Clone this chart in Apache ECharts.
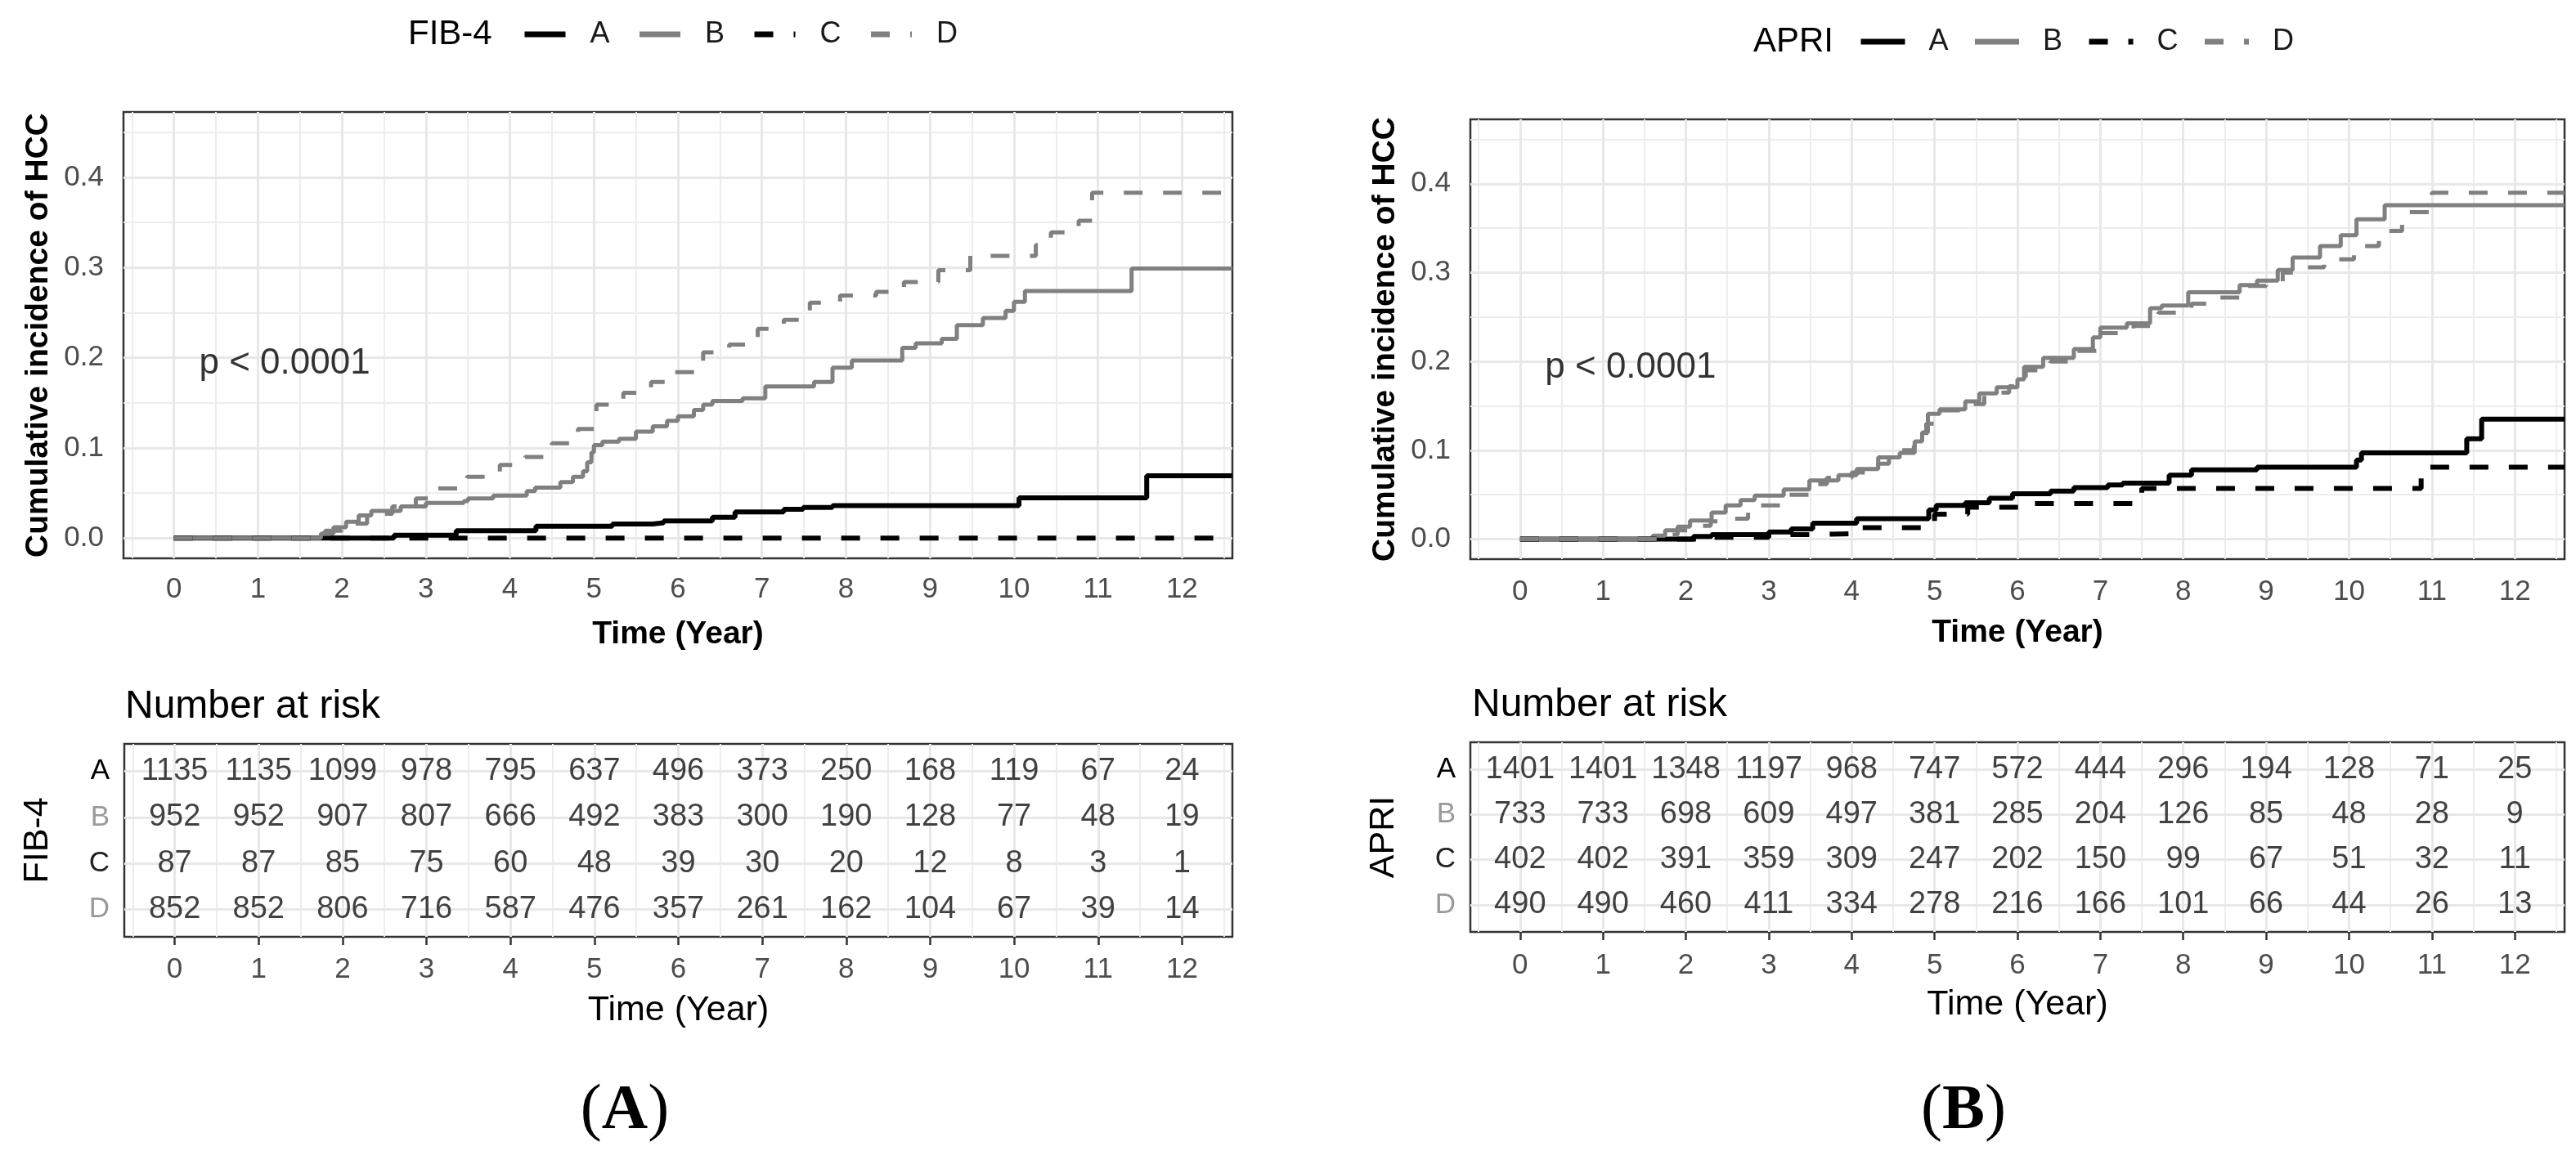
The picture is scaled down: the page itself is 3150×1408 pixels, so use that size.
<!DOCTYPE html>
<html><head><meta charset="utf-8">
<script src="https://cdn.jsdelivr.net/npm/echarts@6/dist/echarts.min.js"></script>
<style>html,body{margin:0;padding:0;background:#fff}#c{width:3150px;height:1408px}</style>
</head><body><div id="c"></div>
<script>
// ---------- data ----------
const years = [0,1,2,3,4,5,6,7,8,9,10,11,12];
const yearMinor = [-0.5,0.5,1.5,2.5,3.5,4.5,5.5,6.5,7.5,8.5,9.5,10.5,11.5,12.5];
const yTicks = [0,0.1,0.2,0.3,0.4];
const yMinor = [0.05,0.15,0.25,0.35,0.45];
const groups = ['A','B','C','D'];

// FIB-4 cumulative incidence (time in years, incidence)
const fibA = [[0,0],[2.62,0.003],[3.36,0.008],[4.31,0.013],[5.22,0.0155],[5.70,0.017],[5.83,0.019],[6.41,0.023],[6.68,0.029],[7.26,0.032],[7.49,0.034],[7.84,0.036],[10.06,0.0445],[11.58,0.069],[12.6,0.069]];
const fibB = [[0,0],[1.58,0],[1.75,0.005],[1.9,0.012],[2.05,0.018],[2.2,0.025],[2.35,0.03],[2.7,0.035],[3.0,0.039],[3.45,0.041],[3.5,0.044],[3.8,0.047],[4.2,0.052],[4.3,0.056],[4.6,0.062],[4.75,0.068],[4.87,0.074],[4.92,0.084],[4.97,0.095],[5.0,0.103],[5.1,0.107],[5.3,0.11],[5.5,0.118],[5.7,0.124],[5.87,0.13],[6.0,0.135],[6.19,0.142],[6.3,0.148],[6.41,0.152],[6.77,0.155],[7.04,0.168],[7.62,0.173],[7.84,0.189],[8.07,0.197],[8.67,0.211],[8.83,0.216],[9.14,0.221],[9.32,0.236],[9.63,0.244],[9.9,0.252],[10.0,0.262],[10.13,0.274],[11.4,0.299],[12.6,0.299]];
const fibC = [[0,0],[12.45,0]];
const fibD = [[0,0],[1.6,0],[1.8,0.008],[2.0,0.016],[2.3,0.027],[2.6,0.035],[2.88,0.044],[3.14,0.055],[3.49,0.068],[3.88,0.081],[4.18,0.09],[4.5,0.105],[4.81,0.121],[5.03,0.148],[5.35,0.161],[5.68,0.173],[5.9,0.184],[6.2,0.195],[6.3,0.206],[6.61,0.2145],[6.95,0.232],[7.26,0.242],[7.57,0.261],[7.93,0.269],[8.36,0.273],[8.69,0.284],[9.1,0.297],[9.48,0.313],[10.26,0.325],[10.44,0.339],[10.77,0.352],[10.93,0.383],[12.6,0.383]];

// APRI cumulative incidence
const apriA = [[0,0],[2.09,0.003],[2.31,0.005],[3.0,0.008],[3.27,0.0115],[3.53,0.018],[4.06,0.023],[4.93,0.033],[5.02,0.038],[5.37,0.041],[5.66,0.046],[5.94,0.051],[6.4,0.054],[6.68,0.058],[7.09,0.061],[7.27,0.063],[7.83,0.072],[8.1,0.078],[8.89,0.081],[10.09,0.089],[10.15,0.097],[11.42,0.113],[11.6,0.135],[12.6,0.135]];
const apriB = [[0,0],[1.48,0],[1.6,0.004],[1.75,0.01],[1.9,0.014],[2.05,0.021],[2.31,0.03],[2.48,0.038],[2.66,0.044],[2.83,0.049],[3.18,0.056],[3.49,0.066],[3.84,0.072],[4.06,0.079],[4.32,0.092],[4.58,0.097],[4.76,0.11],[4.85,0.12],[4.92,0.141],[5.06,0.146],[5.37,0.155],[5.54,0.164],[5.75,0.171],[6.0,0.18],[6.08,0.194],[6.31,0.204],[6.68,0.214],[6.91,0.227],[7.0,0.238],[7.32,0.243],[7.6,0.26],[7.74,0.263],[8.06,0.278],[8.68,0.286],[8.89,0.291],[9.14,0.303],[9.32,0.317],[9.65,0.33],[9.9,0.342],[10.09,0.36],[10.43,0.376],[12.6,0.376]];
const apriC = [[0,0],[2.3,0.002],[3.0,0.005],[3.5,0.006],[4.0,0.013],[4.85,0.02],[5.0,0.028],[5.4,0.036],[6.05,0.04],[7.5,0.057],[10.87,0.081],[12.6,0.081]];
const apriD = [[0,0],[1.5,0],[1.7,0.005],[1.9,0.01],[2.1,0.015],[2.3,0.02],[2.57,0.023],[2.75,0.03],[2.88,0.038],[3.2,0.05],[3.5,0.062],[3.7,0.069],[4.0,0.075],[4.2,0.085],[4.45,0.09],[4.6,0.1],[4.75,0.105],[4.9,0.13],[5.0,0.145],[5.3,0.152],[5.6,0.165],[5.9,0.172],[6.1,0.19],[6.4,0.2],[6.7,0.212],[7.0,0.232],[7.4,0.24],[7.7,0.255],[8.1,0.265],[8.43,0.272],[8.7,0.285],[9.0,0.29],[9.2,0.3],[9.39,0.306],[9.7,0.315],[10.06,0.33],[10.36,0.347],[10.64,0.368],[11.0,0.39],[12.6,0.39]];

// Number at risk
const fibRiskA = [1135,1135,1099,978,795,637,496,373,250,168,119,67,24];
const fibRiskB = [952,952,907,807,666,492,383,300,190,128,77,48,19];
const fibRiskC = [87,87,85,75,60,48,39,30,20,12,8,3,1];
const fibRiskD = [852,852,806,716,587,476,357,261,162,104,67,39,14];
const apriRiskA = [1401,1401,1348,1197,968,747,572,444,296,194,128,71,25];
const apriRiskB = [733,733,698,609,497,381,285,204,126,85,48,28,9];
const apriRiskC = [402,402,391,359,309,247,202,150,99,67,51,32,11];
const apriRiskD = [490,490,460,411,334,278,216,166,101,66,44,26,13];

const pText = 'p < 0.0001';
const pPos = [0.3, 0.193];

// ---------- styles ----------
const FONT = '"Liberation Sans", Arial, sans-serif';
const SERIF = '"Liberation Serif", "Times New Roman", serif';
const GRAY = '#808080';
const styleOf = {
  A: {color:'#000000', width:6, type:'solid'},
  B: {color:GRAY, width:5, type:'solid'},
  C: {color:'#000000', width:6, type:[23,25]},
  D: {color:GRAY, width:5, type:[23,25]}
};
const rowLabelColor = {A:'#000000', B:'#9a9a9a', C:'#222222', D:'#9a9a9a'};

function gridLines(xi, yMaj, yMin, xMaj, xMin) {
  const d = [];
  xMin.forEach(v => d.push({xAxis:v, lineStyle:{width:2, color:'#ededed'}}));
  yMin.forEach(v => d.push({yAxis:v, lineStyle:{width:2, color:'#ededed'}}));
  xMaj.forEach(v => d.push({xAxis:v, lineStyle:{width:3, color:'#e8e8e8'}}));
  yMaj.forEach(v => d.push({yAxis:v, lineStyle:{width:3, color:'#e8e8e8'}}));
  return {type:'line', xAxisIndex:xi, yAxisIndex:xi, data:[[0,0]], symbol:'none', z:1,
    lineStyle:{opacity:0}, silent:true,
    markLine:{z:1, silent:true, symbol:['none','none'], label:{show:false}, animation:false,
      lineStyle:{type:'solid'}, data:d}};
}
function curve(name, data, xi) {
  const s = styleOf[name];
  return {type:'line', name:name, xAxisIndex:xi, yAxisIndex:xi, data:data, step:'end',
    symbol:'none', z:3, silent:true,
    lineStyle:{color:s.color, width:s.width, type:s.type, cap:'butt'},
    itemStyle:{color:s.color}};
}
function pLabel(xi) {
  return {type:'scatter', xAxisIndex:xi, yAxisIndex:xi, data:[pPos], symbolSize:0.1, z:6,
    itemStyle:{color:'transparent'}, silent:true,
    label:{show:true, position:'right', distance:0, formatter:pText, fontFamily:FONT, fontSize:44, color:'#000'}};
}
function riskSeries(xi, arrs) {
  const data = [];
  arrs.forEach((arr, gi) => arr.forEach((n, k) => data.push([years[k], 4 - gi, n])));
  return {type:'scatter', xAxisIndex:xi, yAxisIndex:xi, data:data, symbolSize:0.1, z:6,
    itemStyle:{color:'transparent'}, silent:true,
    label:{show:true, position:'inside', formatter:p => String(p.value[2]), fontFamily:FONT, fontSize:38, color:'#111'}};
}
function xAx(gi, nameBold, nameSize, nameGap, margin) {
  return {gridIndex:gi, type:'value', min:-0.6, max:12.6,
    axisLine:{show:false},
    axisTick:{show:true, customValues:years, length:10, lineStyle:{color:'#333', width:2.5}},
    axisLabel:{customValues:years, margin:margin, fontFamily:FONT, fontSize:35, color:'#4d4d4d'},
    splitLine:{show:false}, minorSplitLine:{show:false},
    name:'Time (Year)', nameLocation:'middle', nameGap:nameGap,
    nameTextStyle:{fontFamily:FONT, fontSize:nameSize, fontWeight:nameBold?'bold':'normal', color:'#000'}};
}
function yAxPlot(gi) {
  return {gridIndex:gi, type:'value', min:-0.0225, max:0.4725,
    axisLine:{show:false},
    axisTick:{show:true, customValues:yTicks, length:12, lineStyle:{color:'#333', width:2.5}},
    axisLabel:{customValues:yTicks, margin:24, formatter:v => Number(v).toFixed(1), fontFamily:FONT, fontSize:35, color:'#4d4d4d'},
    splitLine:{show:false},
    name:'Cumulative incidence of HCC', nameLocation:'middle', nameRotate:90, nameGap:84,
    nameTextStyle:{fontFamily:FONT, fontSize:39, fontWeight:'bold', color:'#000'}};
}
function yAxTable(gi, title) {
  return {gridIndex:gi, type:'value', min:0.4, max:4.6,
    axisLine:{show:false},
    axisTick:{show:true, customValues:[1,2,3,4], length:12, lineStyle:{color:'#333', width:2.5}},
    axisLabel:{customValues:[1,2,3,4], margin:18, formatter:v => groups[4 - Number(v)],
      color:v => rowLabelColor[groups[4 - Number(v)]], fontFamily:FONT, fontSize:35},
    splitLine:{show:false},
    name:title, nameLocation:'middle', nameRotate:90, nameGap:84,
    nameTextStyle:{fontFamily:FONT, fontSize:43, color:'#000'}};
}
const gridBase = {show:true, backgroundColor:'#fff', borderColor:'#333', borderWidth:2.5, containLabel:false, outerBoundsMode:'none'};
const legendBase = {padding:0, data:groups, itemHeight:20, selectedMode:false,
  itemStyle:{opacity:0}, lineStyle:{width:7}};

const chart = echarts.init(document.getElementById('c'), null, {renderer:'canvas', width:3150, height:1408});
chart.setOption({
  animation:false,
  backgroundColor:'#ffffff',
  grid:[
    Object.assign({left:151, top:137, width:1356, height:546}, gridBase),
    Object.assign({left:1798, top:146, width:1338, height:538}, gridBase),
    Object.assign({left:152, top:910, width:1355, height:236}, gridBase),
    Object.assign({left:1798, top:908, width:1338, height:232}, gridBase)
  ],
  xAxis:[xAx(0,true,39,74,21), xAx(1,true,39,71,23), xAx(2,false,43,69,23), xAx(3,false,43,68,24)],
  yAxis:[yAxPlot(0), yAxPlot(1), yAxTable(2,'FIB-4'), yAxTable(3,'APRI')],
  legend:[
    Object.assign({left:638, top:24, itemWidth:50, itemGap:33,
     textStyle:{fontFamily:FONT, fontSize:36, color:'#1a1a1a', padding:[0,0,0,25]}}, legendBase),
    Object.assign({left:2272, top:33, itemWidth:54, itemGap:29,
     textStyle:{fontFamily:FONT, fontSize:36, color:'#1a1a1a', padding:[0,0,0,24]}}, legendBase)
  ],
  graphic:[
    {type:'text', x:499, y:42, style:{text:'FIB-4', font:'42px '+FONT, fill:'#000', textAlign:'left', textVerticalAlign:'middle'}},
    {type:'text', x:2144, y:51, style:{text:'APRI', font:'42px '+FONT, fill:'#000', textAlign:'left', textVerticalAlign:'middle'}},
    {type:'text', x:153, y:865, style:{text:'Number at risk', font:'48px '+FONT, fill:'#000', textAlign:'left', textVerticalAlign:'middle'}},
    {type:'text', x:1800, y:863, style:{text:'Number at risk', font:'48px '+FONT, fill:'#000', textAlign:'left', textVerticalAlign:'middle'}},
    {type:'text', x:764, y:1360, style:{text:'{p|(}{b|A}{p|)}', textAlign:'center', textVerticalAlign:'middle',
      rich:{p:{fontFamily:SERIF, fontSize:78, fill:'#000'}, b:{fontFamily:SERIF, fontSize:78, fontWeight:'bold', fill:'#000'}}}},
    {type:'text', x:2401, y:1360, style:{text:'{p|(}{b|B}{p|)}', textAlign:'center', textVerticalAlign:'middle',
      rich:{p:{fontFamily:SERIF, fontSize:78, fill:'#000'}, b:{fontFamily:SERIF, fontSize:78, fontWeight:'bold', fill:'#000'}}}}
  ],
  series:[
    gridLines(0, yTicks, yMinor, years, yearMinor),
    gridLines(1, yTicks, yMinor, years, yearMinor),
    gridLines(2, [1,2,3,4], [], years, yearMinor),
    gridLines(3, [1,2,3,4], [], years, yearMinor),
    curve('A', fibA, 0), curve('B', fibB, 0), curve('C', fibC, 0), curve('D', fibD, 0),
    curve('A', apriA, 1), curve('B', apriB, 1), curve('C', apriC, 1), curve('D', apriD, 1),
    pLabel(0), pLabel(1),
    riskSeries(2, [fibRiskA, fibRiskB, fibRiskC, fibRiskD]),
    riskSeries(3, [apriRiskA, apriRiskB, apriRiskC, apriRiskD])
  ]
});
</script>
</body></html>
